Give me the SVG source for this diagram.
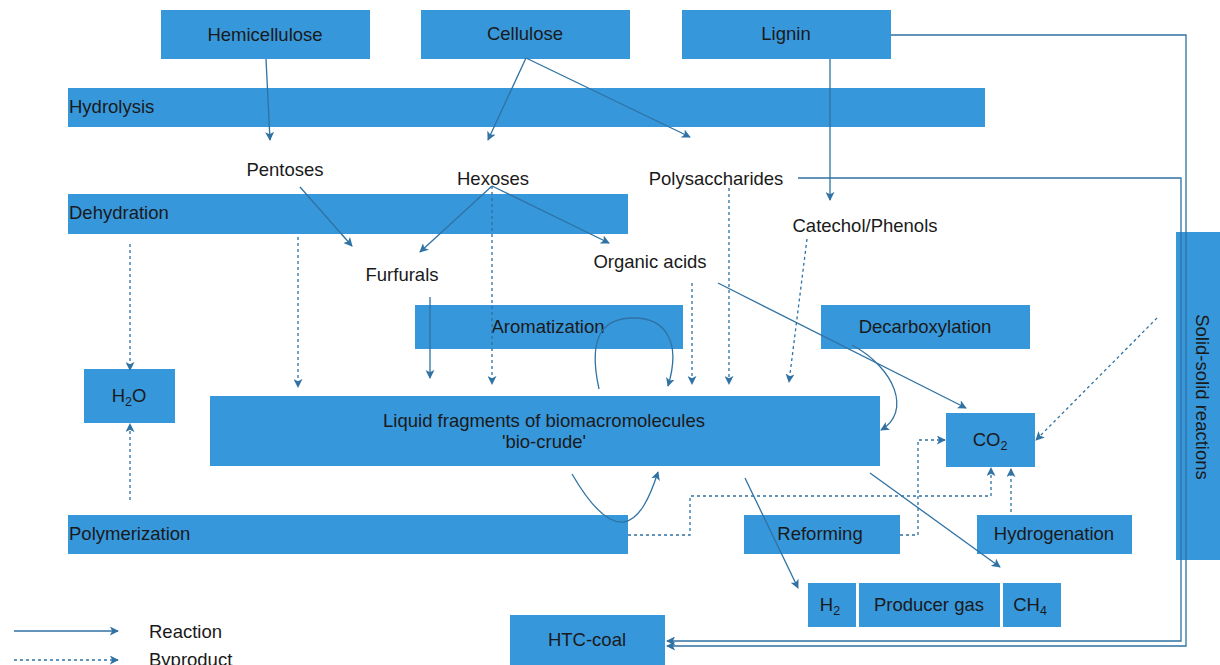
<svg xmlns="http://www.w3.org/2000/svg" width="1220" height="665" viewBox="0 0 1220 665">
  <style>
    .box { fill: #3797DB; }
    text { font-family: "Liberation Sans", Arial, sans-serif; font-size: 18.5px; fill: #1a1a1a; }
    .c { text-anchor: middle; }
    .sub { font-size: 12.5px; }
    .ln { fill: none; stroke: #2F72A3; stroke-width: 1.3; marker-end: url(#ah); }
    .dl { fill: none; stroke: #2F72A3; stroke-width: 1.3; stroke-dasharray: 3 3; marker-end: url(#ah); }
  </style>
  <defs>
    <marker id="ah" viewBox="0 0 10 10" refX="9" refY="5" markerWidth="9" markerHeight="9" markerUnits="userSpaceOnUse" orient="auto">
      <path d="M0,0 L10,5 L0,10 L2.5,5 Z" fill="#2F72A3"/>
    </marker>
  </defs>
  <rect width="1220" height="665" fill="#ffffff"/>

  <g id="hemicellulose"><rect class="box" x="161" y="10" width="209" height="49"/><text class="c" x="265" y="41">Hemicellulose</text></g>
  <g id="cellulose"><rect class="box" x="421" y="10" width="209" height="49"/><text class="c" x="525" y="40">Cellulose</text></g>
  <g id="lignin"><rect class="box" x="682" y="10" width="209" height="49"/><text class="c" x="786" y="40">Lignin</text></g>
  <g id="hydrolysis"><rect class="box" x="68" y="88" width="917" height="39"/><text x="69" y="113">Hydrolysis</text></g>
  <g id="pentoses"><text class="c" x="285" y="176">Pentoses</text></g>
  <g id="hexoses"><text class="c" x="493" y="185">Hexoses</text></g>
  <g id="polysaccharides"><text class="c" x="716" y="185">Polysaccharides</text></g>
  <g id="dehydration"><rect class="box" x="68" y="194" width="560" height="40"/><text x="69" y="219">Dehydration</text></g>
  <g id="catechol"><text class="c" x="865" y="232">Catechol/Phenols</text></g>
  <g id="furfurals"><text class="c" x="402" y="281">Furfurals</text></g>
  <g id="organic-acids"><text class="c" x="650" y="268">Organic acids</text></g>
  <g id="aromatization"><rect class="box" x="415" y="305" width="268" height="44"/><text class="c" x="548" y="333">Aromatization</text></g>
  <g id="decarboxylation"><rect class="box" x="821" y="305" width="209" height="44"/><text class="c" x="925" y="333">Decarboxylation</text></g>
  <g id="h2o"><rect class="box" x="84" y="369" width="91" height="54"/><text class="c" x="129" y="402">H<tspan class="sub" dy="4">2</tspan><tspan dy="-4">O</tspan></text></g>
  <g id="bio-crude"><rect class="box" x="210" y="396" width="670" height="70"/><text class="c" x="544" y="427">Liquid fragments of biomacromolecules</text><text class="c" x="544" y="448">'bio-crude'</text></g>
  <g id="co2"><rect class="box" x="946" y="413" width="89" height="54"/><text class="c" x="990" y="446">CO<tspan class="sub" dy="4">2</tspan></text></g>
  <g id="polymerization"><rect class="box" x="68" y="515" width="560" height="39"/><text x="69" y="540">Polymerization</text></g>
  <g id="reforming"><rect class="box" x="744" y="515" width="156" height="39"/><text class="c" x="820" y="540">Reforming</text></g>
  <g id="hydrogenation"><rect class="box" x="977" y="515" width="155" height="39"/><text class="c" x="1054" y="540">Hydrogenation</text></g>
  <g id="h2"><rect class="box" x="808" y="583" width="48" height="44"/><text class="c" x="830" y="611">H<tspan class="sub" dy="4">2</tspan></text></g>
  <g id="producer-gas"><rect class="box" x="859" y="583" width="141" height="44"/><text class="c" x="929" y="611">Producer gas</text></g>
  <g id="ch4"><rect class="box" x="1003" y="583" width="58" height="44"/><text class="c" x="1030" y="611">CH<tspan class="sub" dy="4">4</tspan></text></g>
  <g id="htc-coal"><rect class="box" x="510" y="615" width="155" height="55"/><text class="c" x="587" y="646">HTC-coal</text></g>
  <g id="solid-solid"><rect class="box" x="1176" y="232" width="44" height="328"/><text class="c" transform="translate(1196 397) rotate(90)">Solid-solid reactions</text></g>

  <!-- connectors, drawn over the boxes -->
  <g id="connectors">
    <!-- reactions -->
    <path class="ln" d="M266 59 L270 140"/>
    <path class="ln" d="M526 58 L488 140"/>
    <path class="ln" d="M526 58 L690 137"/>
    <path class="ln" d="M830 59 L830 200"/>
    <path class="ln" d="M891 35 L1186 35 L1186 646 L667 646"/>
    <path class="ln" d="M798 178 L1181 178 L1181 641 L667 641"/>
    <path class="ln" d="M300 187 L352 246"/>
    <path class="ln" d="M492 186 L420 252"/>
    <path class="ln" d="M492 186 L609 243"/>
    <path class="ln" d="M430 297 L430 378"/>
    <path class="ln" d="M718 283 L966 408"/>
    <path class="ln" d="M852 345 C 895 368, 912 412, 881 430"/>
    <path class="ln" d="M599 389 C 586 330, 608 318, 634 318 C 664 318, 682 340, 668 386"/>
    <path class="ln" d="M572 474 C 590 505, 608 524, 624 522 C 640 519, 650 497, 658 472"/>
    <path class="ln" d="M745 478 L798 588"/>
    <path class="ln" d="M870 473 L1000 567"/>
    <!-- byproducts -->
    <path class="dl" d="M130 244 L130 370"/>
    <path class="dl" d="M130 500 L130 424"/>
    <path class="dl" d="M298 237 L298 387"/>
    <path class="dl" d="M492 186 L492 384"/>
    <path class="dl" d="M692 283 L692 384"/>
    <path class="dl" d="M729 188 L729 384"/>
    <path class="dl" d="M807 239 L789 382"/>
    <path class="dl" d="M628 535 L690 535 L690 496 L991 496 L991 468"/>
    <path class="dl" d="M900 535 L918 535 L918 440 L945 440"/>
    <path class="dl" d="M1011 512 L1011 469"/>
    <path class="dl" d="M1157 318 L1036 440"/>
    <!-- key -->
    <path class="ln" d="M14 631 L118 631"/>
    <path class="dl" d="M14 660 L118 660"/>
  </g>

  <g id="key">
    <text x="149" y="638">Reaction</text>
    <text x="149" y="666">Byproduct</text>
  </g>
</svg>
